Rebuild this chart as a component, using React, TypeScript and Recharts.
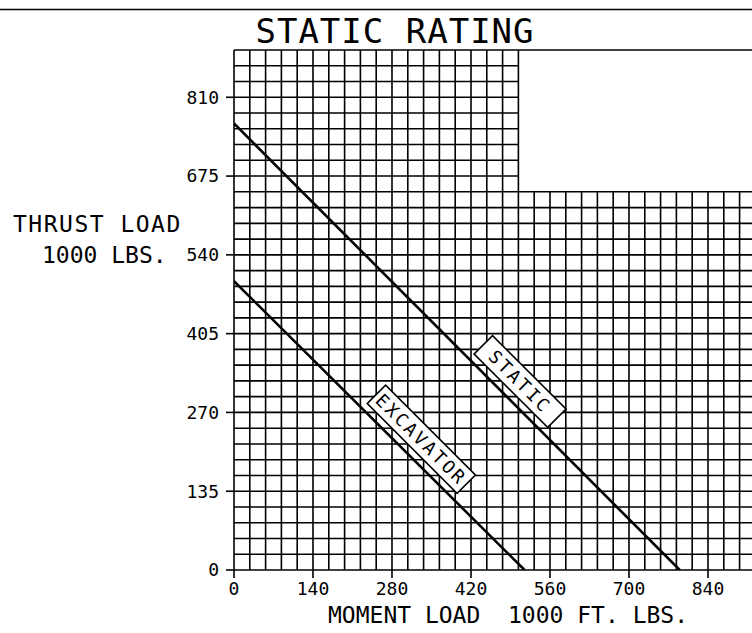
import { LineChart, Line, XAxis, YAxis, ReferenceLine, ReferenceDot } from "recharts";

// moment load (1000 ft-lbs) vs thrust load (1000 lbs)
const staticMoment = [0, 790];
const staticThrust = [765, 0];
const excavatorMoment = [0, 515];
const excavatorThrust = [495, 0];

const xTicks = [0, 140, 280, 420, 560, 700, 840];
const yTicks = [0, 135, 270, 405, 540, 675, 810];

const X_MAX = 918;
const Y_MAX = 891;
const STEP_X = 28;
const STEP_Y = 27;
// the grid is cut back above this thrust for moments past the notch
const NOTCH_X = 504;
const NOTCH_Y = 648;

const gridX = Array.from({ length: Math.floor(X_MAX / STEP_X) + 1 }, (_, i) => i * STEP_X);
const gridY = Array.from({ length: Math.floor(Y_MAX / STEP_Y) + 1 }, (_, i) => i * STEP_Y);

const FONT = "'DejaVu Sans Mono', monospace";

const staticData = staticMoment.map((x, i) => ({ x, y: staticThrust[i] }));
const excavatorData = excavatorMoment.map((x, i) => ({ x, y: excavatorThrust[i] }));

function lineTag(text: string, w: number) {
  return (p: any) => (
    <g transform={`translate(${p.cx},${p.cy}) rotate(45)`}>
      <rect x={-w / 2} y={-13} width={w} height={26} fill="#fff" stroke="#000" strokeWidth={1.6} />
      <text
        x={0}
        y={0}
        dy="0.36em"
        textAnchor="middle"
        fontFamily={FONT}
        fontSize={18}
        letterSpacing={2.5}
        fill="#000"
      >
        {text}
      </text>
    </g>
  );
}

export default function App() {
  const tick = { fontSize: 18, fill: "#000", fontFamily: FONT };
  return (
    <div style={{ position: "absolute", left: 0, top: 0, width: 752, height: 633, background: "#fff" }}>
      <LineChart width={752} height={633} margin={{ top: 50, right: 0, bottom: 33, left: 174 }}>
        <XAxis
          type="number"
          dataKey="x"
          domain={[0, X_MAX]}
          ticks={xTicks}
          allowDataOverflow
          axisLine={false}
          tickSize={8}
          tickMargin={4}
          tickLine={{ stroke: "#000", strokeWidth: 1.6 }}
          tick={tick}
          height={30}
        />
        <YAxis
          type="number"
          dataKey="y"
          domain={[0, Y_MAX]}
          ticks={yTicks}
          allowDataOverflow
          axisLine={false}
          tickSize={8}
          tickMargin={7}
          tickLine={{ stroke: "#000", strokeWidth: 1.6 }}
          tick={tick}
          width={60}
        />
        {gridX.map((v) => (
          <ReferenceLine
            key={"vx" + v}
            segment={[{ x: v, y: 0 }, { x: v, y: v <= NOTCH_X ? Y_MAX : NOTCH_Y }]}
            stroke="#000"
            strokeWidth={1.6}
            ifOverflow="visible"
          />
        ))}
        {gridY.map((v) => (
          <ReferenceLine
            key={"hy" + v}
            segment={[{ x: 0, y: v }, { x: v <= NOTCH_Y || v === Y_MAX ? X_MAX : NOTCH_X, y: v }]}
            stroke="#000"
            strokeWidth={1.6}
            ifOverflow="visible"
          />
        ))}
        <Line data={staticData} dataKey="y" stroke="#000" strokeWidth={2.6} dot={false} isAnimationActive={false} />
        <Line data={excavatorData} dataKey="y" stroke="#000" strokeWidth={2.6} dot={false} isAnimationActive={false} />
        <ReferenceDot x={507} y={323} r={0} ifOverflow="visible" shape={lineTag("STATIC", 104)} />
        <ReferenceDot x={332} y={224} r={0} ifOverflow="visible" shape={lineTag("EXCAVATOR", 127)} />
      </LineChart>
      <svg width={752} height={633} style={{ position: "absolute", left: 0, top: 0, pointerEvents: "none" }}>
        <line x1={0} y1={9.5} x2={752} y2={9.5} stroke="#000" strokeWidth={1.6} />
        <text x={395} y={43} textAnchor="middle" fontFamily={FONT} fontSize={34} letterSpacing={1} fill="#000">
          STATIC RATING
        </text>
        <text x={13} y={232} fontFamily={FONT} fontSize={23} letterSpacing={1.5} fill="#000">
          THRUST LOAD
        </text>
        <text x={42} y={263} fontFamily={FONT} fontSize={23} fill="#000" style={{ whiteSpace: "pre" }}>
          1000 LBS.
        </text>
        <text x={328} y={623} fontFamily={FONT} fontSize={23} fill="#000" style={{ whiteSpace: "pre" }}>
          MOMENT LOAD  1000 FT. LBS.
        </text>
      </svg>
    </div>
  );
}
